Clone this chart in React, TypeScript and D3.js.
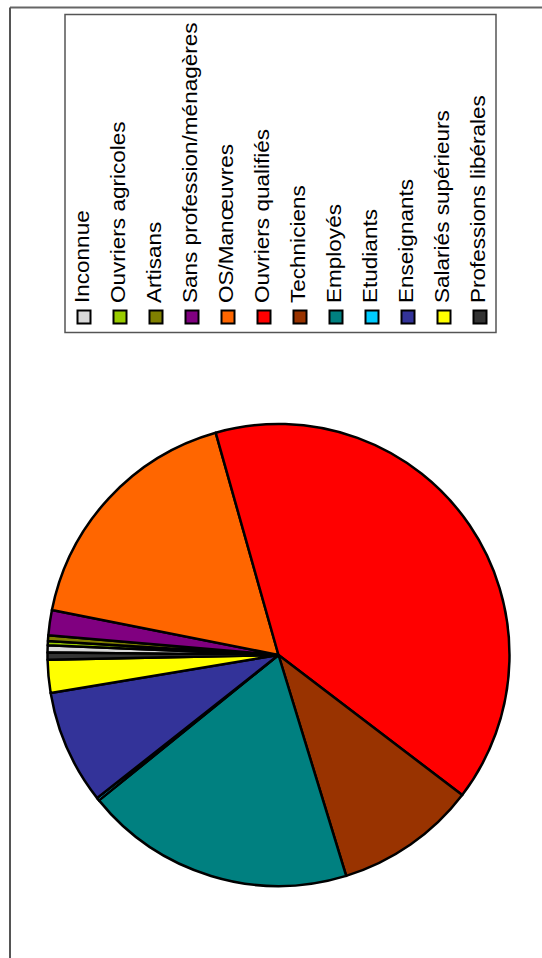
import React from "react";
import * as d3 from "d3";

const categories = [
  "Inconnue",
  "Ouvriers agricoles",
  "Artisans",
  "Sans profession/ménagères",
  "OS/Manœuvres",
  "Ouvriers qualifiés",
  "Techniciens",
  "Employés",
  "Etudiants",
  "Enseignants",
  "Salariés supérieurs",
  "Professions libérales",
];

const values = [0.5, 0.3, 0.4, 1.75, 17.5, 39.75, 9.9, 18.9, 0.2, 8.0, 2.3, 0.5];

const colors = [
  "#D9D9D9",
  "#99CC00",
  "#808000",
  "#800080",
  "#FF6600",
  "#FF0000",
  "#993300",
  "#008080",
  "#00CCFF",
  "#333399",
  "#FFFF00",
  "#333333",
];

const W = 542;
const H = 958;

export default function App() {
  const cx = 278.5;
  const cy = 655;
  const r = 231;
  const start = (270.6 * Math.PI) / 180;
  const pie = d3
    .pie<number>()
    .sort(null)
    .value((d) => d)
    .startAngle(start)
    .endAngle(start + 2 * Math.PI);
  const arcs = pie(values);
  const arc = d3.arc<d3.PieArcDatum<number>>().innerRadius(0).outerRadius(r);

  const legendX = d3
    .scaleLinear()
    .domain([0, categories.length - 1])
    .range([84, 480]);

  return (
    <svg
      width={W}
      height={H}
      style={{ position: "absolute", left: 0, top: 0, background: "#fff" }}
    >
      <rect x={0} y={0} width={W} height={H} fill="#fff" />
      {/* outer frame */}
      <line x1={10} y1={7.5} x2={W} y2={7.5} stroke="#666" strokeWidth={2} />
      <line x1={10} y1={7.5} x2={10} y2={H} stroke="#555" strokeWidth={2} />

      {/* pie */}
      <g transform={`translate(${cx},${cy})`}>
        {arcs.map((a, i) => (
          <path
            key={i}
            d={arc(a) || ""}
            fill={colors[i]}
            stroke="#000"
            strokeWidth={2.5}
            strokeLinejoin="round"
          />
        ))}
      </g>

      {/* legend */}
      <rect
        x={65}
        y={14.5}
        width={431}
        height={318}
        fill="#fff"
        stroke="#555"
        strokeWidth={1.5}
      />
      {categories.map((c, i) => {
        const x = legendX(i);
        return (
          <g key={c}>
            <rect
              x={x - 6.5}
              y={310.5}
              width={13}
              height={13}
              fill={colors[i]}
              stroke="#000"
              strokeWidth={2}
            />
            <text
              transform={`translate(${x + 5},303) rotate(-90) scale(1.1,1)`}
              fontFamily="'Liberation Sans', Arial, sans-serif"
              fontSize={20.5}
              fill="#000"
            >
              {c}
            </text>
          </g>
        );
      })}
    </svg>
  );
}
